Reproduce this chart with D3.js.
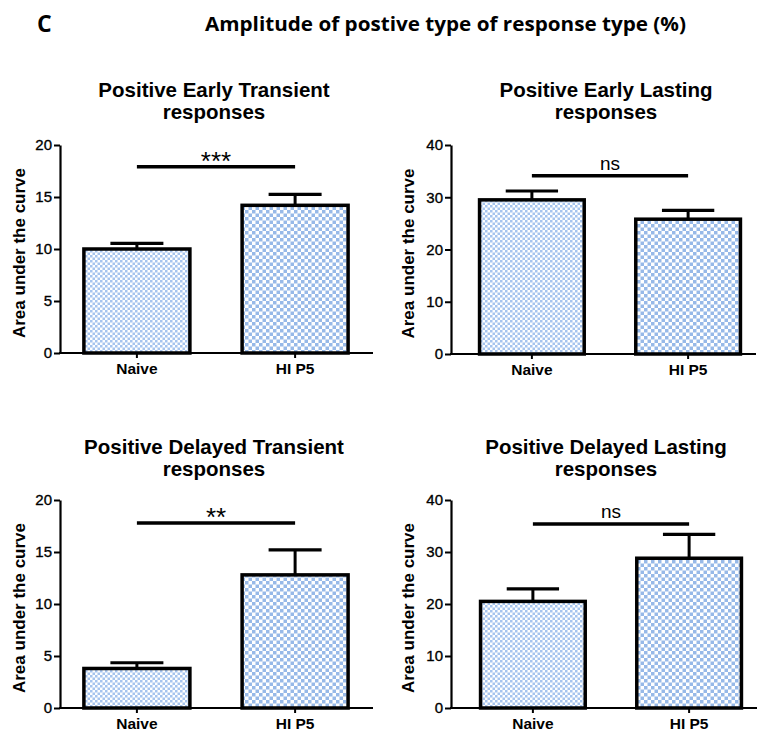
<!DOCTYPE html>
<html><head><meta charset="utf-8">
<script src="https://cdn.jsdelivr.net/npm/d3@7"></script>
<style>body{margin:0;background:#fff}svg{display:block}</style>
</head><body>
<script>
// ---- data ----
const categories = ["Naive", "HI P5"];
const panelTitles = [
  ["Positive Early Transient", "responses"],
  ["Positive Early Lasting", "responses"],
  ["Positive Delayed Transient", "responses"],
  ["Positive Delayed Lasting", "responses"]
];
const meanValues = [[10.0, 14.2], [29.5, 25.8], [3.8, 12.8], [20.5, 28.8]];
const semValues = [[0.55, 1.05], [1.7, 1.7], [0.55, 2.4], [2.4, 4.6]];
const yMaxValues = [20, 40, 20, 40];
const yTickValues = [[0, 5, 10, 15, 20], [0, 10, 20, 30, 40], [0, 5, 10, 15, 20], [0, 10, 20, 30, 40]];
const sigLabels = ["***", "ns", "**", "ns"];
const sigLevels = [17.9, 34.1, 17.8, 35.4];
const yAxisLabel = "Area under the curve";
const mainTitle = "Amplitude of postive type of response type (%)";
const panelLetter = "C";

// ---- layout (not data) ----
const W = 757, H = 731;
const layout = [
  {ax: 60, axEnd: 373, r0: 57, r1: 375, y0: 353, yTop: 145, tx: 214, ty: 97, lx: 19},
  {ax: 451, axEnd: 756, r0: 453, r1: 767, y0: 354, yTop: 145, tx: 606, ty: 97, lx: 408},
  {ax: 60, axEnd: 373, r0: 57, r1: 375, y0: 708, yTop: 500, tx: 214, ty: 454, lx: 19},
  {ax: 451, axEnd: 757, r0: 454, r1: 768, y0: 708, yTop: 500, tx: 606, ty: 454, lx: 408}
];

const svg = d3.select("body").append("svg").attr("width", W).attr("height", H);
const defs = svg.append("defs");
function checker(id, cell, color) {
  const p = defs.append("pattern").attr("id", id).attr("patternUnits", "userSpaceOnUse")
    .attr("width", cell * 2).attr("height", cell * 2);
  p.append("rect").attr("width", cell * 2).attr("height", cell * 2).attr("fill", "#fff");
  p.append("rect").attr("width", cell).attr("height", cell).attr("fill", color);
  p.append("rect").attr("x", cell).attr("y", cell).attr("width", cell).attr("height", cell).attr("fill", color);
}
checker("patNaive", 2.5, "#a6c4ee");
checker("patHI", 3.5, "#97b9e8");
const fills = ["url(#patNaive)", "url(#patHI)"];

const FONT = "'Liberation Sans', Arial, Helvetica, sans-serif";
const TFONT = "'Open Sans', 'Noto Sans', sans-serif";

svg.append("text").attr("x", 37).attr("y", 32).text(panelLetter)
  .attr("font-family", TFONT).attr("font-weight", "bold").attr("font-size", 23);
svg.append("text").attr("x", 205).attr("y", 31).text(mainTitle)
  .attr("font-family", TFONT).attr("font-weight", "bold").attr("font-size", 20)
  .attr("textLength", 481).attr("lengthAdjust", "spacingAndGlyphs");

layout.forEach((L, i) => {
  const g = svg.append("g");
  const x = d3.scaleBand().domain(categories).range([L.r0, L.r1]).paddingInner(0.33).paddingOuter(0.17);
  const y = d3.scaleLinear().domain([0, yMaxValues[i]]).range([L.y0, L.yTop]);
  const bw = x.bandwidth();

  // title
  const t = g.append("text").attr("text-anchor", "middle").attr("font-family", FONT)
    .attr("font-weight", "bold").attr("font-size", 20.5);
  panelTitles[i].forEach((line, k) => {
    t.append("tspan").attr("x", L.tx).attr("y", L.ty + k * 22).text(line);
  });

  // y axis
  const yAx = g.append("g").attr("transform", `translate(${L.ax},0)`)
    .call(d3.axisLeft(y).tickValues(yTickValues[i]).tickSize(6).tickPadding(2).tickSizeOuter(0));
  yAx.select(".domain").attr("stroke-width", 2.2);
  yAx.selectAll(".tick line").attr("stroke-width", 2);
  yAx.selectAll(".tick text").attr("font-family", FONT).attr("font-size", 15).attr("fill", "#000")
    .attr("stroke", "#000").attr("stroke-width", 0.35);

  // y axis label
  g.append("text").attr("transform", `translate(${L.lx},${(L.y0 + L.yTop) / 2 + 4}) rotate(-90)`)
    .attr("text-anchor", "middle").attr("dominant-baseline", "central")
    .attr("font-family", FONT).attr("font-weight", "bold").attr("font-size", 17).text(yAxisLabel);

  // bars
  const data = categories.map((c, j) => ({c, m: meanValues[i][j], s: semValues[i][j], f: fills[j]}));
  g.selectAll("rect.bar").data(data).join("rect").attr("class", "bar")
    .attr("x", d => x(d.c)).attr("width", bw)
    .attr("y", d => y(d.m)).attr("height", d => y(0) - y(d.m))
    .attr("fill", d => d.f).attr("stroke", "#000").attr("stroke-width", 3.5);

  // error bars (upper only)
  data.forEach(d => {
    const cx = x(d.c) + bw / 2;
    g.append("line").attr("x1", cx).attr("x2", cx).attr("y1", y(d.m)).attr("y2", y(d.m + d.s))
      .attr("stroke", "#000").attr("stroke-width", 3);
    g.append("line").attr("x1", cx - bw / 4).attr("x2", cx + bw / 4)
      .attr("y1", y(d.m + d.s)).attr("y2", y(d.m + d.s))
      .attr("stroke", "#000").attr("stroke-width", 3.2);
  });

  // x axis
  g.append("line").attr("x1", L.ax - 1).attr("x2", L.axEnd).attr("y1", L.y0).attr("y2", L.y0)
    .attr("stroke", "#000").attr("stroke-width", 2.2);
  categories.forEach(c => {
    const cx = x(c) + bw / 2;
    g.append("line").attr("x1", cx).attr("x2", cx).attr("y1", L.y0).attr("y2", L.y0 + 5)
      .attr("stroke", "#000").attr("stroke-width", 2);
    g.append("text").attr("x", cx).attr("y", L.y0 + 21).attr("text-anchor", "middle")
      .attr("font-family", FONT).attr("font-weight", "bold").attr("font-size", 15.5).text(c);
  });

  // significance
  const c0 = x(categories[0]) + bw / 2, c1 = x(categories[1]) + bw / 2;
  const sy = y(sigLevels[i]);
  g.append("line").attr("x1", c0).attr("x2", c1).attr("y1", sy).attr("y2", sy)
    .attr("stroke", "#000").attr("stroke-width", 3.5);
  const isNs = sigLabels[i] === "ns";
  g.append("text").attr("x", (c0 + c1) / 2).attr("y", isNs ? sy - 6 : sy + 3)
    .attr("text-anchor", "middle").attr("font-family", FONT)
    .attr("font-weight", "normal").attr("font-size", isNs ? 19 : 26)
    .text(sigLabels[i]);
});
</script>
</body></html>
